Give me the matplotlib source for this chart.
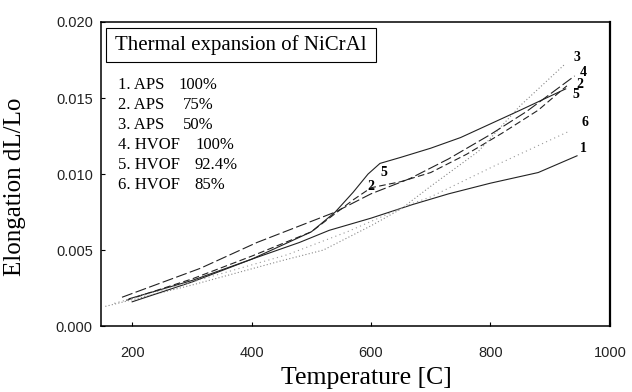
import matplotlib
matplotlib.use("Agg")
import matplotlib.pyplot as plt
from matplotlib.patches import Rectangle

# curve data: temperature [C] and elongation dL/Lo
t1 = [195, 300, 400, 480, 530, 600, 670, 730, 800, 880, 945]
e1 = [0.0018, 0.0030, 0.0044, 0.0055, 0.0063, 0.0071, 0.0080, 0.0087, 0.0094, 0.0101, 0.0112]

t2 = [190, 300, 400, 500, 540, 570, 600, 650, 700, 760, 820, 880, 928]
e2 = [0.0017, 0.0031, 0.0046, 0.0062, 0.0074, 0.0083, 0.0091, 0.0095, 0.0101, 0.0113, 0.0127, 0.0142, 0.0158]

t3 = [155, 300, 450, 520, 560, 600, 650, 700, 780, 850, 924]
e3 = [0.0013, 0.0027, 0.0043, 0.0050, 0.0058, 0.0066, 0.0077, 0.0092, 0.0115, 0.0145, 0.0172]

t4 = [183, 314, 409, 540, 600, 665, 730, 800, 860, 941]
e4 = [0.0019, 0.0038, 0.0055, 0.0075, 0.0087, 0.0097, 0.0110, 0.0126, 0.0141, 0.01645]

t5 = [200, 300, 400, 500, 540, 570, 595, 615, 650, 700, 750, 800, 850, 926]
e5 = [0.0016, 0.0029, 0.0044, 0.0062, 0.0075, 0.0088, 0.0100, 0.0107, 0.0111, 0.0117, 0.0124, 0.0133, 0.0142, 0.0156]

t6 = [170, 300, 460, 560, 665, 700, 810, 931]
e6 = [0.0015, 0.0029, 0.0047, 0.0062, 0.0080, 0.0085, 0.0106, 0.0128]

legend_names = ["1. APS", "2. APS", "3. APS", "4. HVOF", "5. HVOF", "6. HVOF"]
legend_pcts = ["100%", "75%", "50%", "100%", "92.4%", "85%"]

end_labels = ["3", "4", "2", "5", "6", "1"]
end_label_t = [945, 955, 950, 943, 958, 955]
end_label_e = [0.01764, 0.01665, 0.01592, 0.0152, 0.01342, 0.01171]

mid_labels = ["5", "2"]
mid_label_t = [622, 600]
mid_label_e = [0.01013, 0.00915]

x_ticks = [200, 400, 600, 800, 1000]
y_ticks = [0.000, 0.005, 0.010, 0.015, 0.020]

serif = ["Liberation Serif", "DejaVu Serif"]
sans = ["Liberation Sans", "DejaVu Sans"]

fig = plt.figure(figsize=(6.32, 3.92), dpi=100)
ax = fig.add_axes([0.160, 0.168, 0.805, 0.776])

ax.plot(t1, e1, color="#222222", lw=0.8, ls="-")
ax.plot(t2, e2, color="#222222", lw=0.8, ls=(0, (6, 3)))
ax.plot(t3, e3, color="#888888", lw=0.8, ls=(0, (1, 2)))
ax.plot(t4, e4, color="#222222", lw=0.8, ls=(0, (10, 3)))
ax.plot(t5, e5, color="#222222", lw=0.8, ls="-")
ax.plot(t6, e6, color="#999999", lw=0.8, ls=(0, (1, 3)))

for lab, t, e in zip(end_labels, end_label_t, end_label_e):
    ax.text(t, e, lab, family=serif, fontsize=10, fontweight="bold",
            ha="center", va="center")
for lab, t, e in zip(mid_labels, mid_label_t, mid_label_e):
    ax.text(t, e, lab, family=serif, fontsize=10, fontweight="bold",
            ha="center", va="center")

# title box
ax.add_patch(Rectangle((0.0098, 0.868), 0.530, 0.112, transform=ax.transAxes,
                       fill=False, ec="black", lw=0.8))
ax.text(0.275, 0.924, "Thermal expansion of NiCrAl", transform=ax.transAxes,
        family=serif, fontsize=15, ha="center", va="center")

pct_x = [0.153, 0.161, 0.161, 0.185, 0.183, 0.183]
for i, (name, pct) in enumerate(zip(legend_names, legend_pcts)):
    yy = 0.793 - i * 0.0658
    ax.text(0.0334, yy, name, transform=ax.transAxes, family=serif,
            fontsize=12, va="center")
    ax.text(pct_x[i], yy, pct, transform=ax.transAxes, family=serif,
            fontsize=12, va="center")

ax.set_xlim(148, 1000)
ax.set_ylim(0, 0.020)
ax.set_xticks(x_ticks)
ax.set_yticks(y_ticks)
ax.set_yticklabels([f"{v:.3f}" for v in y_ticks])
ax.tick_params(direction="in", length=3, width=0.8, labelsize=10.5,
               labelcolor="#222222")
ax.tick_params(axis="x", pad=14)
ax.tick_params(axis="y", pad=6)
for lab in ax.get_xticklabels() + ax.get_yticklabels():
    lab.set_family(sans)
for sp in ax.spines.values():
    sp.set_linewidth(1.1)
ax.spines["right"].set_linewidth(1.6)

fig.text(15 / 632, 1 - 187 / 392, "Elongation dL/Lo", family=serif, fontsize=18,
         rotation=90, ha="center", va="center")
fig.text(366 / 632, 1 - 378 / 392, "Temperature [C]", family=serif, fontsize=18.5,
         ha="center", va="center")

fig.savefig("out.png", dpi=100)
